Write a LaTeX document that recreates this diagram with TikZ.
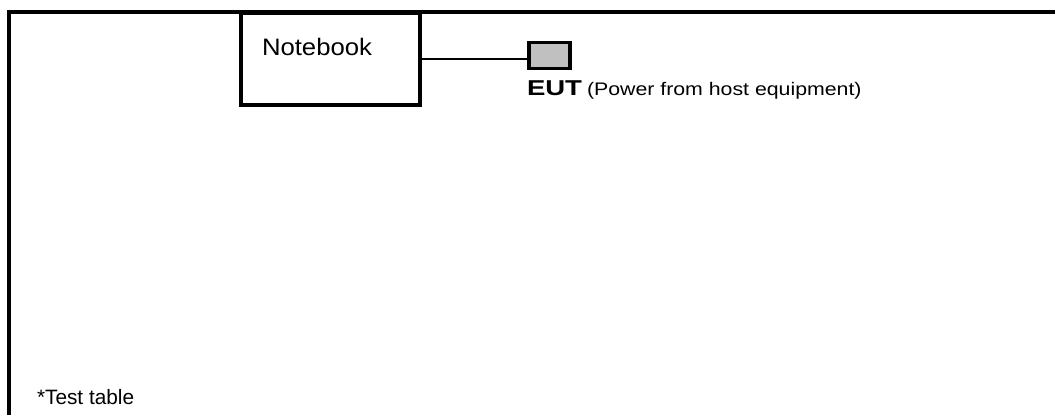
\documentclass[tikz,border=0pt]{standalone}
\usepackage{fontspec}
\setmainfont{Liberation Sans}
\definecolor{eutgray}{RGB}{192,192,192}
\tikzset{
  frameline/.style={line width=4pt, line cap=rect},
  devbox/.style={draw, line width=3.5pt, rectangle, inner sep=0pt, outer sep=0pt},
  txt/.style={anchor=base west, inner sep=0pt, outer sep=0pt},
  cable/.style={line width=2.8pt}
}
\begin{document}
\begin{tikzpicture}[x=1pt,y=-1pt]
\useasboundingbox (0,0) rectangle (1055,415);
\fill[white] (0,0) rectangle (1055,415);
% frame
\coordinate (tl) at (8.5,11.5);
\coordinate (tr) at (1060,11.5);
\coordinate (bl) at (8.5,420);
\draw[frameline] (tr) -- (tl) -- (bl);
% notebook
\node[devbox, minimum width=179pt, minimum height=92pt] (nb) at (330.5,59) {};
\node[txt, xscale=1.08] (nbt) at (262,55) {\fontsize{23.8}{28}\selectfont Notebook};
% EUT
\node[devbox, fill=eutgray, minimum width=41pt, minimum height=26pt] (eut) at (549.5,55.7) {};
\draw[cable] (nb.east) -- (nb.east -| eut.west);
\node[txt, xscale=1.28] (eutt) at (527,95) {\fontsize{21.5}{25}\selectfont\bfseries EUT};
\node[txt, xscale=1.17] (pwr) at (587,95) {\fontsize{18.2}{22}\selectfont (Power from host equipment)};
% test table
\node[txt] (tt) at (37,404) {\fontsize{20.8}{24}\selectfont *Test table};
\end{tikzpicture}
\end{document}
